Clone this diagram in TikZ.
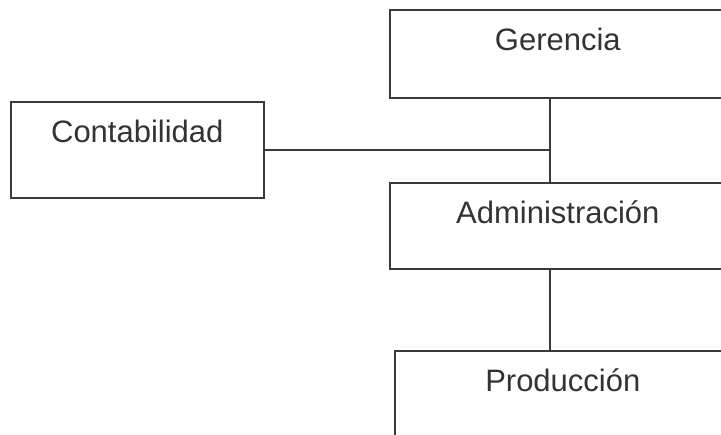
\documentclass[tikz,border=0pt]{standalone}
\usepackage{fontspec}
\setmainfont{Liberation Sans}
\usepackage{tikz}
\usetikzlibrary{positioning,calc}
\definecolor{boxline}{HTML}{3A3A3A}
\definecolor{boxtext}{HTML}{333333}
\tikzset{
  caja/.style={draw=boxline, line width=1.6pt, anchor=north west, inner sep=0pt,
    text=boxtext, font=\fontsize{31}{37}\selectfont, text height=41pt},
  linea/.style={draw=boxline, line width=1.6pt}
}
\begin{document}
\begin{tikzpicture}[x=1pt,y=-1pt]
  \useasboundingbox (0,0) rectangle (721,435);
  \clip (0,0) rectangle (721,435);
  \node[caja, minimum width=336pt, text depth=47pt] (gerencia) at (389,9) {Gerencia};
  \node[caja, minimum width=253pt, text depth=55pt] (conta) at (10,101) {Contabilidad};
  \node[caja, minimum width=336pt, text depth=45pt] (admin) at (389,182) {Administración};
  \node[caja, minimum width=336pt, text depth=60pt] (prod) at (394,350) {Producción};

  \coordinate (tronco) at (conta.east -| 550,0);
  \draw[linea] (gerencia.south -| tronco) -- (admin.north -| tronco);
  \draw[linea] (conta.east) -- (tronco);
  \draw[linea] (admin.south -| tronco) -- (prod.north -| tronco);
\end{tikzpicture}
\end{document}
